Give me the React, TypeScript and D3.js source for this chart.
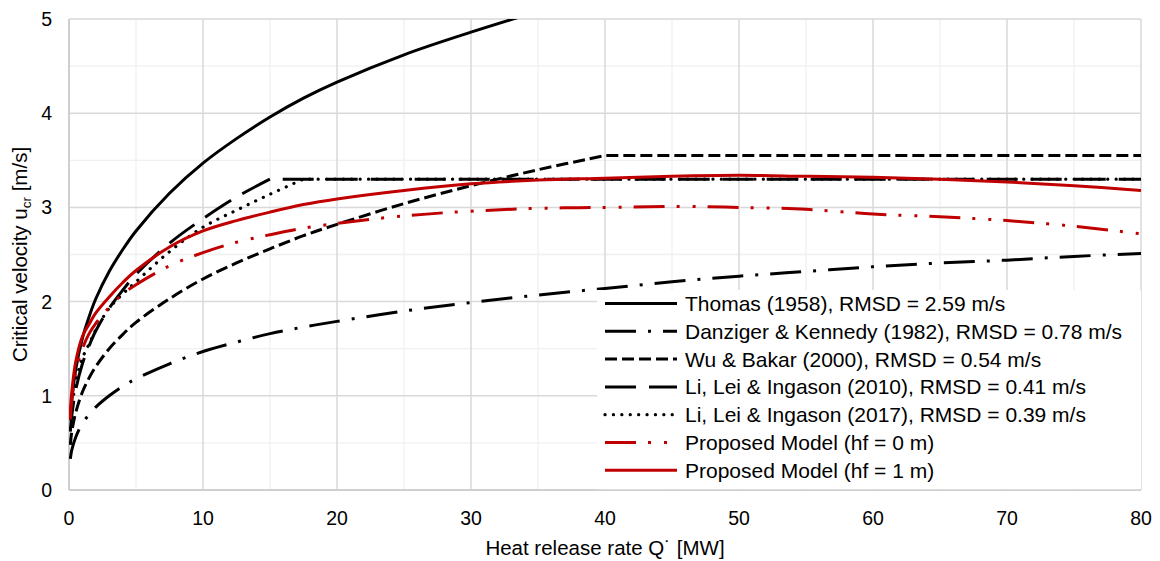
import React from "react";
import * as d3 from "d3";

const Q = [0.1, 0.2, 0.5, 1, 1.5, 2, 3, 4, 5, 7.5, 10, 12.5, 15, 17.5, 20, 25, 30, 35, 40, 45, 50, 55, 60, 65, 70, 75, 80];

const thomas = [0.75, 0.94, 1.28, 1.61, 1.84, 2.03, 2.32, 2.55, 2.75, 3.15, 3.47, 3.73, 3.96, 4.16, 4.33, 4.62, 4.86, 5.08, null, null, null, null, null, null, null, null, null];
const danziger = [0.33, 0.42, 0.56, 0.71, 0.8, 0.88, 1.0, 1.1, 1.18, 1.34, 1.47, 1.57, 1.66, 1.73, 1.79, 1.9, 1.99, 2.07, 2.14, 2.21, 2.27, 2.32, 2.37, 2.41, 2.44, 2.48, 2.51];
const wuBakar = [0.48, 0.61, 0.82, 1.04, 1.19, 1.31, 1.5, 1.65, 1.78, 2.03, 2.24, 2.41, 2.56, 2.7, 2.82, 3.04, 3.23, 3.4, 3.55, 3.55, 3.55, 3.55, 3.55, 3.55, 3.55, 3.55, 3.55];
const li2010 = [0.62, 0.78, 1.06, 1.34, 1.53, 1.69, 1.93, 2.12, 2.29, 2.62, 2.88, 3.11, 3.3, 3.3, 3.3, 3.3, 3.3, 3.3, 3.3, 3.3, 3.3, 3.3, 3.3, 3.3, 3.3, 3.3, 3.3];
const li2017 = [0.66, 0.84, 1.14, 1.4, 1.55, 1.7, 1.93, 2.08, 2.21, 2.53, 2.79, 2.97, 3.14, 3.3, 3.3, 3.3, 3.3, 3.3, 3.3, 3.3, 3.3, 3.3, 3.3, 3.3, 3.3, 3.3, 3.3];
const proposedHf0 = [0.75, 0.95, 1.25, 1.5, 1.66, 1.77, 1.94, 2.08, 2.18, 2.38, 2.52, 2.63, 2.71, 2.78, 2.83, 2.91, 2.96, 2.99, 3.0, 3.01, 3.0, 2.98, 2.93, 2.9, 2.86, 2.8, 2.72];
const proposedHf1 = [0.82, 1.03, 1.36, 1.63, 1.76, 1.88, 2.05, 2.2, 2.33, 2.58, 2.75, 2.86, 2.95, 3.03, 3.09, 3.18, 3.25, 3.29, 3.31, 3.33, 3.34, 3.33, 3.32, 3.3, 3.27, 3.23, 3.18];

const seriesNames = [
  "Thomas (1958), RMSD = 2.59 m/s",
  "Danziger & Kennedy (1982), RMSD = 0.78 m/s",
  "Wu & Bakar (2000), RMSD = 0.54 m/s",
  "Li, Lei & Ingason (2010), RMSD = 0.41 m/s",
  "Li, Lei & Ingason (2017), RMSD = 0.39 m/s",
  "Proposed Model (hf = 0 m)",
  "Proposed Model (hf = 1 m)",
];
const seriesValues = [thomas, danziger, wuBakar, li2010, li2017, proposedHf0, proposedHf1];
// index of the point where the curve turns into a flat (sharp corner), -1 = none
const seriesKinks = [-1, -1, 18, 12, 13, -1, -1];

const X_TICKS = [0, 10, 20, 30, 40, 50, 60, 70, 80];
const Y_TICKS = [0, 1, 2, 3, 4, 5];
const X_MINOR = [5, 15, 25, 35, 45, 55, 65, 75];
const Y_MINOR = [0.5, 1.5, 2.5, 3.5, 4.5];

const RED = "#c00000";
const styles = [
  { color: "#000", width: 3, dash: "none", cap: "butt" },
  { color: "#000", width: 3, dash: "31 12 3 12", cap: "butt" },
  { color: "#000", width: 3, dash: "12 5", cap: "butt" },
  { color: "#000", width: 3, dash: "31 13", cap: "butt" },
  { color: "#000", width: 3.2, dash: "0.1 8.3", cap: "round" },
  { color: RED, width: 3, dash: "31 12 3 13 3 12", cap: "butt" },
  { color: RED, width: 3, dash: "none", cap: "butt" },
];

const FONT = "'Liberation Sans', Arial, Helvetica, sans-serif";
const W = 1160;
const H = 561;
const L = 69, R = 1141, T = 19, B = 490;

export default function App() {
  const x = d3.scaleLinear().domain([0, 80]).range([L, R]);
  const y = d3.scaleLinear().domain([0, 5]).range([B, T]);

  const smooth = d3
    .line<[number, number]>()
    .x((d) => x(d[0]))
    .y((d) => y(d[1]))
    .curve(d3.curveCatmullRom.alpha(0.5));
  const straight = d3
    .line<[number, number]>()
    .x((d) => x(d[0]))
    .y((d) => y(d[1]));

  const paths = seriesValues.map((vals, i) => {
    const pts: [number, number][] = [];
    vals.forEach((v, j) => {
      if (v !== null && v !== undefined) pts.push([Q[j], v as number]);
    });
    const k = seriesKinks[i];
    if (k < 0) return smooth(pts) || "";
    const head = pts.slice(0, k + 1);
    const tail = pts.slice(k);
    const t = straight(tail) || "";
    return (smooth(head) || "") + "L" + t.slice(1);
  });

  const legendX0 = 605, legendX1 = 677, legendTextX = 685;
  const legendY0 = 303.5, legendDy = 27.8;

  return (
    <svg
      width={W}
      height={H}
      style={{ position: "absolute", left: 0, top: 0, background: "#fff" }}
      fontFamily={FONT}
    >
      <defs>
        <clipPath id="plotClip">
          <rect x={L} y={T} width={R - L} height={B - T} />
        </clipPath>
      </defs>
      <rect x={0} y={0} width={W} height={H} fill="#fff" />
      {/* minor grid */}
      {X_MINOR.map((v) => (
        <line key={"xm" + v} x1={x(v)} x2={x(v)} y1={T} y2={B} stroke="#f0f0f0" strokeWidth={1.3} />
      ))}
      {Y_MINOR.map((v) => (
        <line key={"ym" + v} x1={L} x2={R} y1={y(v)} y2={y(v)} stroke="#f0f0f0" strokeWidth={1.3} />
      ))}
      {/* major grid */}
      {X_TICKS.map((v) => (
        <line key={"xg" + v} x1={x(v)} x2={x(v)} y1={T} y2={B} stroke="#d9d9d9" strokeWidth={1.5} />
      ))}
      {Y_TICKS.map((v) => (
        <line key={"yg" + v} x1={L} x2={R} y1={y(v)} y2={y(v)} stroke="#d9d9d9" strokeWidth={1.5} />
      ))}
      {/* axes */}
      <line x1={L} x2={L} y1={T} y2={B} stroke="#c8c8c8" strokeWidth={1.5} />
      <line x1={L} x2={R} y1={B} y2={B} stroke="#c8c8c8" strokeWidth={1.5} />

      {/* series */}
      <g clipPath="url(#plotClip)">
        {paths.map((d, i) => (
          <path
            key={"s" + i}
            d={d}
            fill="none"
            stroke={styles[i].color}
            strokeWidth={styles[i].width}
            strokeDasharray={styles[i].dash}
            strokeLinecap={styles[i].cap as any}
            strokeLinejoin="round"
          />
        ))}
      </g>

      {/* legend */}
      <rect x={597} y={290} width={R - 597} height={B - 290 - 0.75} fill="#fff" />
      {seriesNames.map((name, i) => {
        const yy = legendY0 + i * legendDy;
        return (
          <g key={"lg" + i}>
            <line
              x1={legendX0}
              x2={legendX1}
              y1={yy}
              y2={yy}
              stroke={styles[i].color}
              strokeWidth={styles[i].width}
              strokeDasharray={styles[i].dash}
              strokeLinecap={styles[i].cap as any}
            />
            <text x={legendTextX} y={yy + 7.5} fontSize={21} fill="#000">
              {name}
            </text>
          </g>
        );
      })}

      {/* tick labels */}
      {X_TICKS.map((v) => (
        <text key={"xt" + v} x={x(v)} y={525} fontSize={19.5} textAnchor="middle" fill="#000">
          {v}
        </text>
      ))}
      {Y_TICKS.map((v) => (
        <text key={"yt" + v} x={52} y={y(v) + 7} fontSize={19.5} textAnchor="end" fill="#000">
          {v}
        </text>
      ))}

      {/* axis titles */}
      <text x={(L + R) / 2} y={555} fontSize={20.5} textAnchor="middle" fill="#000">
        Heat release rate Q˙ [MW]
      </text>
      <text
        transform={`translate(27, ${(T + B) / 2}) rotate(-90)`}
        fontSize={20.5}
        textAnchor="middle"
        fill="#000"
      >
        Critical velocity u<tspan fontSize={13.5} dy={4}>cr</tspan>
        <tspan dy={-4}> [m/s]</tspan>
      </text>
    </svg>
  );
}
